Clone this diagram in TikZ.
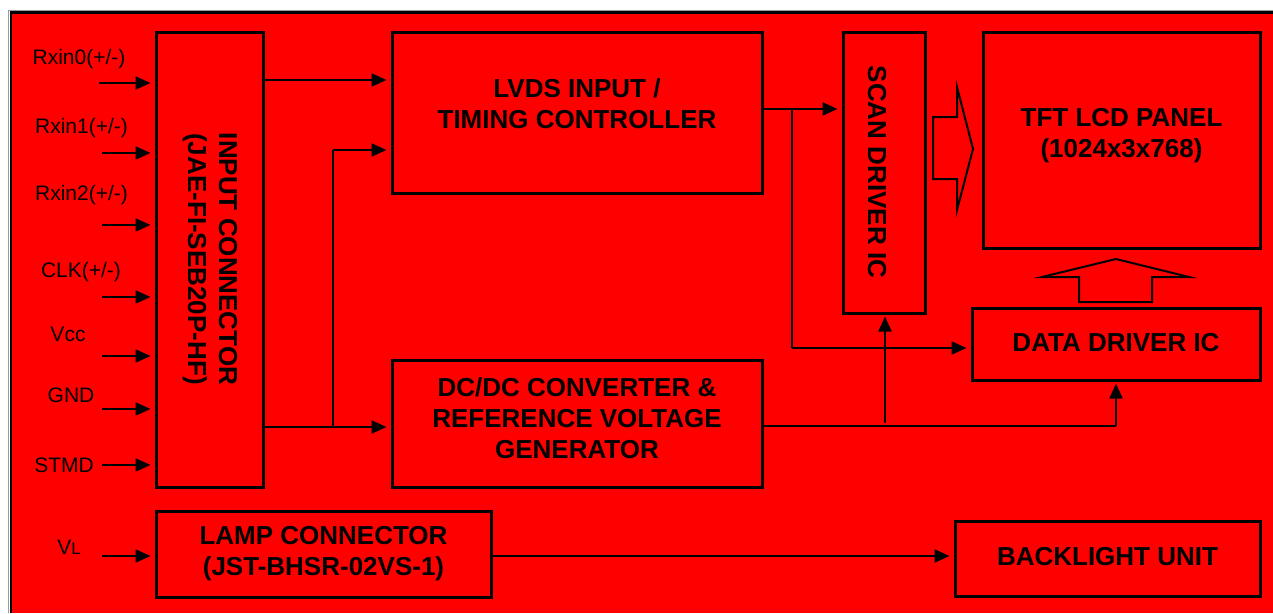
\documentclass[tikz,border=0pt]{standalone}
\usepackage{fontspec}
\setmainfont{Liberation Sans}
\usetikzlibrary{arrows.meta}
\definecolor{bgred}{HTML}{FF0000}
\definecolor{edgegray}{HTML}{9A9A9A}
\tikzset{
  box/.style={draw=black, line width=3pt, inner sep=0pt, fill=none},
  txt/.style={font=\fontsize{26}{31}\selectfont\bfseries, align=center, inner sep=0pt},
  sig/.style={font=\fontsize{21}{25}\selectfont, inner sep=0pt, anchor=base},
  arr/.style={draw=black, line width=2.2pt, -{Triangle[length=15pt,width=13pt]}},
  wire/.style={draw=black, line width=2.2pt},
  hollow/.style={draw=black, line width=2pt, line join=miter, fill=none},
}
\begin{document}
\begin{tikzpicture}[x=1pt,y=-1pt]
\useasboundingbox (0,0) rectangle (1273,613);
% background
\fill[white] (0,0) rectangle (1273,613);
\fill[bgred] (10,12) rectangle (1273,613);
\draw[edgegray, line width=1pt] (8.5,613) -- (8.5,10.5) -- (1273,10.5);
\draw[black, line width=2.5pt] (11,613) -- (11,12.5) -- (1273,12.5);

% boxes
\node[box, minimum width=107, minimum height=455] (inconn) at (209.5,259.5) {};
\node[txt, rotate=-90] (inconnT) at (210,259) {INPUT CONNECTOR\\(JAE-FI-SEB20P-HF)};
\node[box, minimum width=370, minimum height=161] (lvds) at (577,112.5) {};
\node[txt] (lvdsT) at (577,104) {LVDS INPUT /\\TIMING CONTROLLER};
\node[box, minimum width=370, minimum height=127] (dcdc) at (577,423.5) {};
\node[txt] (dcdcT) at (577,418) {DC/DC CONVERTER \&\\REFERENCE VOLTAGE\\GENERATOR};
\node[box, minimum width=335, minimum height=86] (lamp) at (323.5,554) {};
\node[txt] (lampT) at (323.5,553.5) {LAMP CONNECTOR\\(JST-BHSR-02VS-1)};
\node[box, minimum width=82, minimum height=281] (scan) at (884,172.5) {};
\node[txt, rotate=-90] (scanT) at (877,172) {SCAN DRIVER IC};
\node[box, minimum width=277, minimum height=216] (tft) at (1121.5,140) {};
\node[txt] (tftT) at (1121.5,136) {TFT LCD PANEL\\(1024x3x768)};
\node[box, minimum width=288, minimum height=72] (data) at (1116,344) {};
\node[txt] (dataT) at (1116,343) {DATA DRIVER IC};
\node[box, minimum width=305, minimum height=75] (back) at (1107.5,558.5) {};
\node[txt] (backT) at (1107.5,557) {BACKLIGHT UNIT};

% input signal labels
\node[sig] (l0) at (79,64) {Rxin0(+/-)};
\node[sig] (l1) at (81.5,133) {Rxin1(+/-)};
\node[sig] (l2) at (81.5,200) {Rxin2(+/-)};
\node[sig] (l3) at (81,277) {CLK(+/-)};
\node[sig] (l4) at (68,341) {Vcc};
\node[sig] (l5) at (71,402) {GND};
\node[sig] (l6) at (64,472) {STMD};
\node[sig] (l7) at (69,554) {V{\fontsize{17}{20}\selectfont L}};

\coordinate (s0) at (99,83);
\coordinate (s1) at (102,153);
\coordinate (s2) at (102,225);
\coordinate (s3) at (102,297);
\coordinate (s4) at (102,356);
\coordinate (s5) at (102,409);
\coordinate (s6) at (102,465);
\coordinate (s7) at (102,556);
\foreach \i in {0,...,6} {
  \draw[arr] (s\i) -- ([xshift=-4pt]s\i -| inconn.west);
}
\draw[arr] (s7) -- ([xshift=-4pt]s7 -| lamp.west);

% connector -> LVDS / DCDC
\coordinate (j1) at (333,427);
\coordinate (j1t) at (333,150);
\draw[arr] (inconn.east |- 0,80) -- ([xshift=-4pt]lvds.west |- 0,80);
\draw[arr] (inconn.east |- j1) -- ([xshift=-4pt]dcdc.west |- j1);
\draw[wire] (j1) -- (j1t);
\draw[arr] (j1t) -- ([xshift=-4pt]lvds.west |- j1t);

% LVDS -> scan / data
\coordinate (j2) at (792,109);
\coordinate (j2b) at (792,348);
\draw[arr] (lvds.east |- j2) -- ([xshift=-4pt]scan.west |- j2);
\draw[wire] (j2) -- (j2b);
\draw[arr] (j2b) -- ([xshift=-4pt]data.west |- j2b);

% DCDC -> data / scan
\coordinate (j3) at (1116,426);
\coordinate (j4) at (885,423);
\draw[wire] (dcdc.east |- j3) -- (j3);
\draw[arr] (j3) -- ([yshift=-2pt]data.south -| j3);
\draw[arr] (j4) -- ([yshift=-2pt]scan.south -| j4);

% lamp -> backlight
\draw[arr] (lamp.east |- 0,556) -- ([xshift=-4pt]back.west |- 0,556);

% hollow arrows
\draw[hollow] (933,117) -- (957,117) -- (957,87) -- (973,149) -- (957,210) -- (957,179) -- (933,179) -- cycle;
\draw[hollow] (1079,302) -- (1079,277) -- (1042,277) -- (1116,259) -- (1189,277) -- (1152,277) -- (1152,302) -- cycle;
\end{tikzpicture}
\end{document}
